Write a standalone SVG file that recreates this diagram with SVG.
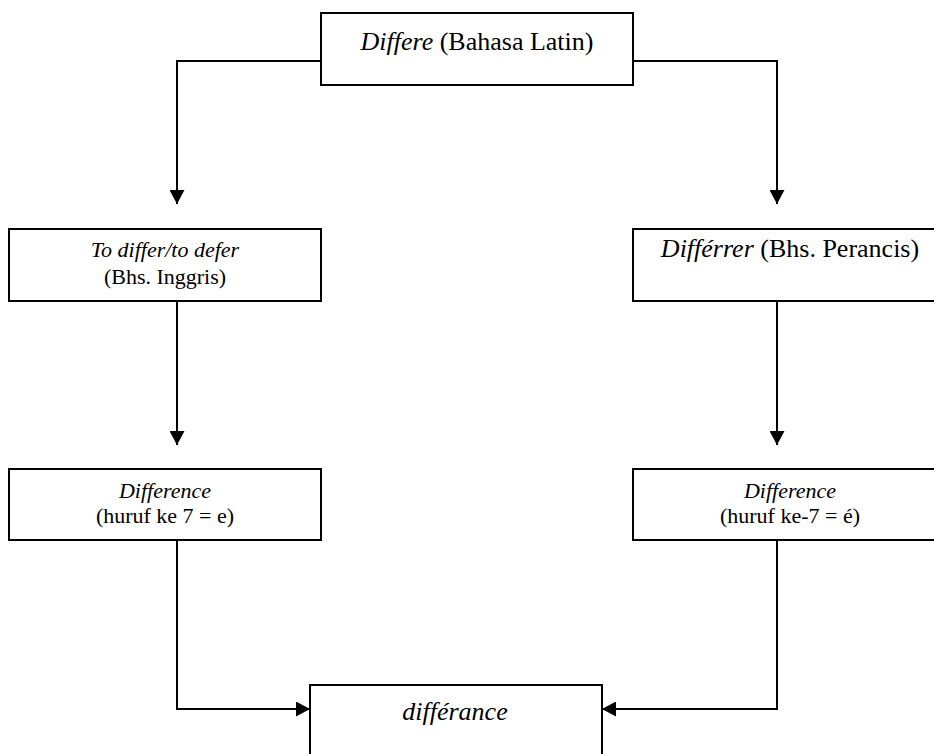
<svg xmlns="http://www.w3.org/2000/svg" width="934" height="754" viewBox="0 0 934 754">
  <style>
    .box { fill: #ffffff; stroke: #000000; stroke-width: 2; }
    .wire { fill: none; stroke: #000000; stroke-width: 2; }
    text { font-family: "Liberation Serif", "Times New Roman", serif; fill: #000000; text-anchor: middle; }
    .big { font-size: 26px; }
    .small { font-size: 22px; }
    .it { font-style: italic; }
  </style>
  <defs>
    <marker id="arrow" viewBox="0 0 14 15" refX="14" refY="7.5" markerWidth="14" markerHeight="15" markerUnits="userSpaceOnUse" orient="auto">
      <path d="M0,0 L14,7.5 L0,15 Z" fill="#000000"/>
    </marker>
  </defs>
  <rect width="934" height="754" fill="#ffffff"/>

  <g id="connectors">
    <path class="wire" d="M321,61 H177 V204" marker-end="url(#arrow)"/>
    <path class="wire" d="M633,61 H777 V204" marker-end="url(#arrow)"/>
    <path class="wire" d="M177,301 V445" marker-end="url(#arrow)"/>
    <path class="wire" d="M777,301 V445" marker-end="url(#arrow)"/>
    <path class="wire" d="M177,540 V709 H310" marker-end="url(#arrow)"/>
    <path class="wire" d="M777,540 V709 H602" marker-end="url(#arrow)"/>
  </g>

  <g id="latin">
    <rect class="box" x="321" y="13" width="312" height="72"/>
    <text class="big" x="477" y="50"><tspan class="it">Differe</tspan> (Bahasa Latin)</text>
  </g>

  <g id="english">
    <rect class="box" x="9" y="229" width="312" height="72"/>
    <text class="small it" x="165" y="257">To differ/to defer</text>
    <text class="small" x="165" y="284">(Bhs. Inggris)</text>
  </g>

  <g id="french">
    <rect class="box" x="633" y="229" width="312" height="72"/>
    <text class="big" x="790" y="257"><tspan class="it">Différrer</tspan> (Bhs. Perancis)</text>
  </g>

  <g id="difference-e">
    <rect class="box" x="9" y="469" width="312" height="71"/>
    <text class="small it" x="165" y="498">Difference</text>
    <text class="small" x="165" y="523">(huruf ke 7 = e)</text>
  </g>

  <g id="difference-e-acute">
    <rect class="box" x="633" y="469" width="312" height="71"/>
    <text class="small it" x="790" y="498">Difference</text>
    <text class="small" x="790" y="523">(huruf ke-7 = é)</text>
  </g>

  <g id="differance">
    <rect class="box" x="310" y="685" width="292" height="80"/>
    <text class="big it" x="455" y="720">différance</text>
  </g>
</svg>
